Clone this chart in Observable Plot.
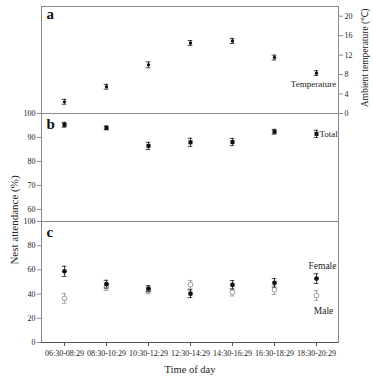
<!DOCTYPE html>
<html><head><meta charset="utf-8">
<script src="https://cdn.jsdelivr.net/npm/d3@7"></script>
<script src="https://cdn.jsdelivr.net/npm/@observablehq/plot@0.6"></script>
<style>
body{margin:0;background:#fff;}
#wrap{position:relative;width:373px;height:376px;overflow:hidden;font-family:"Liberation Serif",serif;color:#222;}
.p{position:absolute;left:0;}
.p text{font-family:"Liberation Serif",serif;}
.lbl{position:absolute;white-space:nowrap;font-family:"Liberation Serif",serif;color:#222;}
</style></head>
<body><div id="wrap"></div>
<script>
const times = ["06:30-08:29","08:30-10:29","10:30-12:29","12:30-14:29","14:30-16:29","16:30-18:29","18:30-20:29"];
const tempMean = [2.4, 5.5, 10.0, 14.5, 14.9, 11.5, 8.3];
const tempErr  = [0.5, 0.5, 0.6, 0.5, 0.5, 0.5, 0.5];
const totalMean = [95.3, 94.0, 86.5, 88.0, 88.1, 92.4, 91.5];
const totalErr  = [1.0, 0.8, 1.5, 1.7, 1.5, 1.0, 1.5];
const femaleMean = [58.8, 48.2, 44.5, 40.3, 47.6, 49.3, 52.8];
const femaleErr  = [4.2, 3.2, 2.5, 3.2, 3.5, 3.5, 4.0];
const maleMean = [36.4, 46.0, 42.8, 47.8, 41.5, 43.5, 38.8];
const maleErr  = [4.0, 3.0, 2.5, 3.5, 3.0, 3.8, 4.0];
const tempTicks = [0, 4, 8, 12, 16, 20];
const totalTicks = [60, 70, 80, 90, 100];
const sexTicks = [0, 20, 40, 60, 80, 100];

const mk = (m, e) => times.map((t, i) => ({t, m: m[i], e: e[i]}));
const temp = mk(tempMean, tempErr), total = mk(totalMean, totalErr),
      female = mk(femaleMean, femaleErr), male = mk(maleMean, maleErr);

const W = 373, ML = 41, MR = 35;
const bw = (W - ML - MR) / times.length;
const capInset = (bw - 5) / 2;
const gray = "#8a8a8a", ink = "#111";
const serif = "Liberation Serif";
const style = {fontFamily: serif, fontSize: "8px", color: "#222", background: "transparent", overflow: "visible"};
const xScale = {type: "band", domain: times, padding: 0};

function errMarks(d, color) {
  return [
    Plot.ruleX(d, {x: "t", y1: r => r.m - r.e, y2: r => r.m + r.e, stroke: color, strokeWidth: 0.8}),
    Plot.tickY(d, {x: "t", y: r => r.m - r.e, stroke: color, strokeWidth: 0.8, insetLeft: capInset, insetRight: capInset}),
    Plot.tickY(d, {x: "t", y: r => r.m + r.e, stroke: color, strokeWidth: 0.8, insetLeft: capInset, insetRight: capInset})
  ];
}
const panelLabel = (s, dy) => Plot.text([s], {frameAnchor: "top-left", dx: 5, dy: dy, text: d => d, fontSize: 15, fontWeight: "bold", fill: ink, textAnchor: "start", lineAnchor: "top", fontFamily: serif});

const A = Plot.plot({
  width: W, height: 114, marginTop: 6, marginBottom: 1, marginLeft: ML, marginRight: MR,
  style, x: {...xScale, axis: null},
  y: {domain: [0, 22]},
  marks: [
    Plot.frame({stroke: gray}),
    Plot.axisY({anchor: "right", ticks: tempTicks, tickSize: 4, tickPadding: 2, label: null, stroke: gray, fontFamily: "Liberation Sans", fontSize: 8}),
    ...errMarks(temp, ink),
    Plot.dot(temp, {x: "t", y: "m", r: 1.7, fill: ink, stroke: "none"}),
    Plot.text(temp.slice(-1), {x: "t", y: "m", text: () => "Temperature", dy: 11, dx: -3, fontSize: 9, fill: "#222", fontFamily: serif}),
    panelLabel("a", 2)
  ]
});

const B = Plot.plot({
  width: W, height: 108, marginTop: 0, marginBottom: 0, marginLeft: ML, marginRight: MR,
  style, x: {...xScale, axis: null},
  y: {domain: [55, 100]},
  marks: [
    Plot.frame({anchor: "left", stroke: gray}),
    Plot.frame({anchor: "right", stroke: gray}),
    Plot.axisY({anchor: "left", ticks: totalTicks, tickSize: 4, tickPadding: 2, label: null, stroke: gray, fontFamily: serif, fontSize: 8}),
    ...errMarks(total, ink),
    Plot.dot(total, {x: "t", y: "m", r: 2.3, symbol: "square", fill: ink, stroke: "none"}),
    Plot.text(total.slice(-1), {x: "t", y: "m", text: () => "Total", dx: 3, textAnchor: "start", fontSize: 9, fill: "#222", fontFamily: serif}),
    panelLabel("b", 5)
  ]
});

const C = Plot.plot({
  width: W, height: 155, marginTop: 0, marginBottom: 34, marginLeft: ML, marginRight: MR,
  style, x: xScale,
  y: {domain: [0, 100]},
  marks: [
    Plot.ruleY([100], {stroke: gray}),
    Plot.frame({anchor: "left", stroke: gray}),
    Plot.frame({anchor: "right", stroke: gray}),
    Plot.ruleY([0], {stroke: "#555"}),
    Plot.axisY({anchor: "left", ticks: sexTicks, tickSize: 4, tickPadding: 2, label: null, stroke: gray, fontFamily: serif, fontSize: 8}),
    Plot.axisX({tickSize: 4, tickPadding: 4, label: null, stroke: "#555", fill: "#222", fontFamily: serif, fontSize: 8}),
    ...errMarks(male, "#8f8f8f"),
    Plot.dot(male, {x: "t", y: "m", r: 2.4, fill: "white", stroke: "#8f8f8f", strokeWidth: 0.9}),
    ...errMarks(female, ink),
    Plot.dot(female, {x: "t", y: "m", r: 2.4, fill: ink, stroke: "none"}),
    Plot.text(female.slice(-1), {x: "t", y: "m", text: () => "Female", dx: 6, dy: -13, fontSize: 9.5, fill: "#222", fontFamily: serif}),
    Plot.text(male.slice(-1), {x: "t", y: "m", text: () => "Male", dx: 7, dy: 15, fontSize: 9.5, fill: "#222", fontFamily: serif}),
    panelLabel("c", 5)
  ]
});

const wrap = document.getElementById("wrap");
[[C, 221], [B, 113], [A, 0]].forEach(([svg, top]) => {
  svg.classList.add("p"); svg.style.top = top + "px"; wrap.appendChild(svg);
});

function label(text, x, y, size, rot) {
  const d = document.createElement("div");
  d.className = "lbl"; d.textContent = text;
  d.style.fontSize = size + "px";
  d.style.left = x + "px"; d.style.top = y + "px";
  d.style.transform = "translate(-50%,-50%)" + (rot ? " rotate(" + rot + "deg)" : "");
  wrap.appendChild(d);
}
label("Time of day", 190, 369, 10.5, 0);
label("Nest attendance (%)", 14, 220, 11, -90);
label("Ambient temperature (\u2103)", 364, 58, 9.5, -90);
</script></body></html>
